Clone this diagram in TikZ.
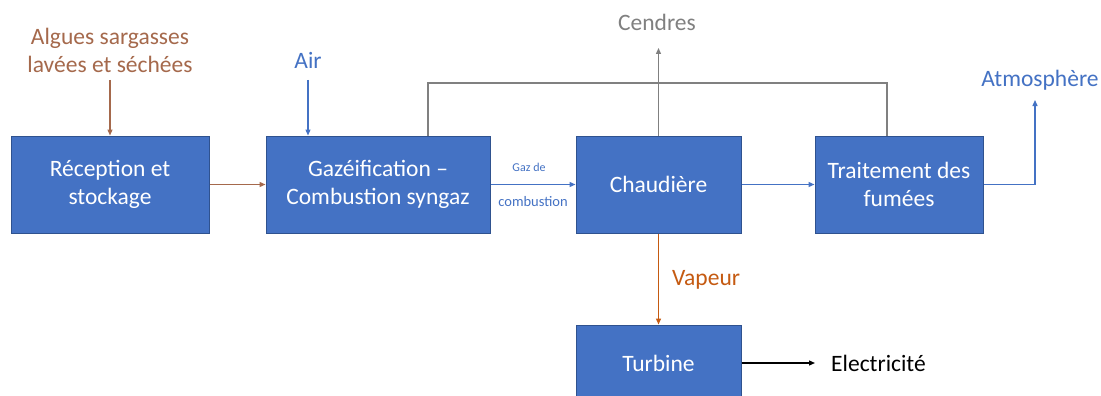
\documentclass[tikz,border=0pt]{standalone}
\usepackage{fontspec}
\setmainfont{Carlito}
\usetikzlibrary{arrows.meta}
\definecolor{boxblue}{HTML}{4472C4}
\definecolor{boxedge}{HTML}{2F528F}
\definecolor{flowbrown}{HTML}{A5694C}
\definecolor{flowgray}{HTML}{808080}
\definecolor{floworange}{HTML}{C55A11}
\tikzset{
  procbox/.style={draw=boxedge, line width=1pt, fill=boxblue, text=white,
    font=\fontsize{23.5}{28}\selectfont, align=center, minimum height=97pt,
    inner sep=2pt},
  lbl/.style={font=\fontsize{23.5}{28}\selectfont, align=center, inner sep=0pt},
  small/.style={text=boxblue, inner sep=0pt},
  flow/.style={line width=1.3pt, -{Triangle[length=6pt,width=5pt]}},
  plain/.style={line width=1.3pt}
}
\begin{document}
\begin{tikzpicture}[x=1pt,y=-1pt]
\clip (0,0) rectangle (1101,396);
\fill[white] (0,0) rectangle (1101,396);

% process blocks
\node[procbox, minimum width=198pt] (recep) at (110,184.5) {Réception et\\stockage};
\node[procbox, minimum width=224pt] (gaz) at (378,184.5) {Gazéification –\\Combustion syngaz};
\node[procbox, minimum width=165pt] (chaud) at (658.5,184.5) {Chaudière};
\node[procbox, minimum width=168pt] (trait) at (899,184.5) {Traitement des\\fumées};
\node[procbox, minimum width=165pt, minimum height=76pt] (turb) at (658.5,363) {Turbine};

% inputs and outputs
\node[lbl, text=flowbrown] (algues) at (110,50) {Algues sargasses\\lavées et séchées};
\node[lbl, text=boxblue] (air) at (308,60) {Air};
\node[lbl, text=flowgray] (cendres) at (657,22) {Cendres};
\node[lbl, text=boxblue] (atm) at (1040,80) {Atmosphère};
\node[lbl, text=floworange, anchor=west] (vapeur) at (672,280) {Vapeur};
\node[lbl, anchor=west] (elec) at (831,363) {Electricité};
\node[small, font=\fontsize{12}{14}\selectfont] (gazde) at (529,167) {Gaz de};
\node[small, font=\fontsize{14.5}{16}\selectfont] (combu) at (533,202) {combustion};

% free ends of connectors
\coordinate (alguesEnd) at (110,80);
\coordinate (airEnd) at (308,80);
\coordinate (cendresTip) at (658.5,48);
\coordinate (atmTip) at (1035,100);
\coordinate (loopTop) at (0,83);
\coordinate (loopStart) at ([xshift=50pt]gaz.north);
\coordinate (loopEnd) at ([xshift=-12pt]trait.north);
\coordinate (elecTip) at (815,363);

% connectors
\draw[flow, flowbrown] (alguesEnd) -- (recep.north);
\draw[flow, boxblue] (airEnd) -- (air.south |- gaz.north);
\draw[flow, flowbrown] (recep.east) -- (gaz.west);
\draw[flow, boxblue] (gaz.east) -- (chaud.west);
\draw[flow, boxblue] (chaud.east) -- (trait.west);
\draw[flow, flowgray] (chaud.north) -- (cendresTip);
\draw[plain, flowgray] (loopStart) -- (loopStart |- loopTop) -- (loopEnd |- loopTop) -- (loopEnd);
\draw[flow, boxblue] (trait.east) -| (atmTip);
\draw[flow, floworange] (chaud.south) -- (turb.north);
\draw[flow, black] (turb.east) -- (elecTip);
\end{tikzpicture}
\end{document}
